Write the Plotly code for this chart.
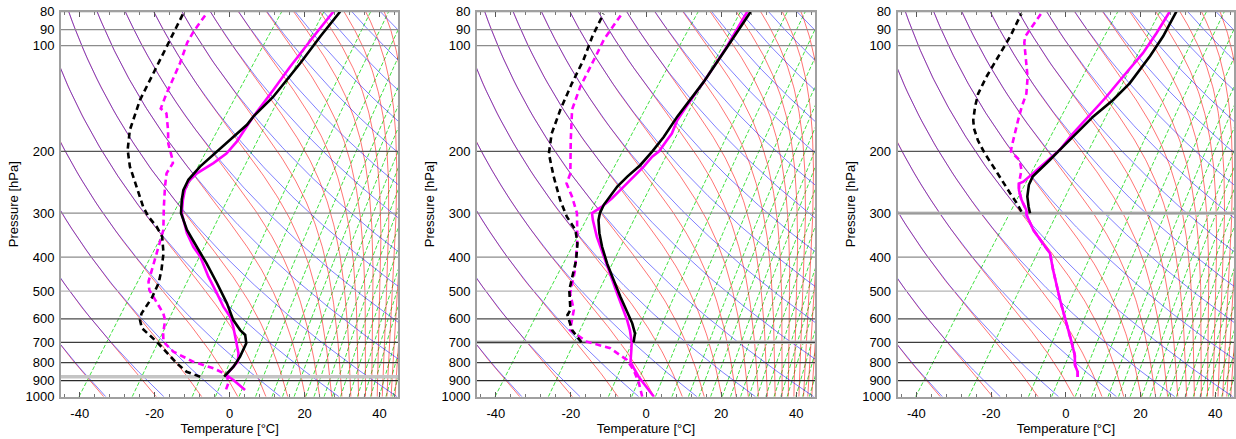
import numpy as np
import plotly.graph_objects as go

# ---------------- data (pressure hPa, temperature degC) ----------------
P1_OBS_P = [877, 821, 769, 704, 667, 646, 605, 542, 475, 417, 374, 335, 300, 275, 258, 241, 221, 200, 182, 168, 159, 140, 125, 112, 94, 80]
P1_OBS_T = [-5.4, -4.9, -5.1, -6.1, -8.0, -10.3, -14.1, -19.1, -25.7, -32.4, -38.3, -44.2, -49.1, -51.5, -53.0, -53.7, -53.2, -51.7, -50.2, -48.9, -48.8, -47.4, -47.1, -46.8, -46.7, -46.3]
P1_OBS_TD_P = [877, 849, 803, 697, 638, 605, 579, 524, 475, 436, 390, 350, 328, 307, 288, 252, 221, 198, 174, 143, 117, 96, 81]
P1_OBS_TD = [-11.8, -16.4, -20.7, -30.3, -36.9, -39.0, -39.9, -40.2, -41.3, -43.1, -45.9, -49.5, -52.9, -57.1, -60.4, -66.1, -71.9, -75.8, -79.1, -82.3, -84.2, -86.1, -87.8]
P1_MOD_P = [957, 896, 867, 839, 795, 752, 720, 675, 632, 592, 554, 507, 455, 399, 374, 342, 300, 275, 258, 244, 231, 216, 203, 188, 166, 159, 134, 115, 94, 80]
P1_MOD_T = [2.8, -2.3, -5.2, -5.1, -4.7, -6.2, -7.9, -10.3, -12.8, -15.6, -19.4, -23.8, -29.3, -35.4, -39.2, -43.6, -48.9, -51.2, -52.6, -53.3, -52.7, -50.3, -48.7, -48.3, -48.8, -48.8, -48.7, -48.8, -48.5, -48.1]
P1_MOD_TD_P = [953, 916, 867, 830, 795, 744, 697, 660, 605, 579, 530, 497, 470, 436, 390, 335, 288, 252, 231, 216, 207, 190, 174, 156, 151, 137, 112, 98, 91, 81]
P1_MOD_TD = [-2.4, -3.0, -5.0, -9.9, -16.6, -23.9, -28.5, -30.2, -32.3, -34.1, -38.9, -42.4, -44.3, -45.7, -47.7, -50.5, -54.9, -58.6, -60.8, -61.1, -62.7, -66.2, -68.9, -72.6, -75.1, -76.5, -78.9, -81.0, -81.5, -81.6]

P2_OBS_P = [700, 660, 618, 573, 519, 465, 417, 374, 342, 314, 300, 284, 269, 252, 236, 219, 200, 182, 159, 127, 101, 80]
P2_OBS_T = [-14.0, -15.4, -18.1, -21.8, -26.5, -31.6, -36.6, -41.2, -44.6, -47.4, -48.4, -49.0, -48.9, -49.0, -48.3, -47.1, -46.6, -46.4, -46.8, -46.6, -47.2, -47.9]
P2_OBS_TD_P = [700, 646, 585, 566, 497, 455, 408, 366, 335, 307, 275, 236, 203, 178, 152, 128, 110, 94, 81]
P2_OBS_TD = [-27.9, -32.8, -37.0, -37.2, -41.4, -43.3, -45.5, -48.4, -51.6, -56.5, -61.6, -67.9, -73.7, -76.9, -79.3, -81.4, -82.9, -85.2, -86.7]
P2_MOD_P = [1000, 947, 877, 830, 795, 736, 700, 646, 605, 508, 408, 350, 314, 300, 287, 272, 255, 236, 221, 207, 200, 186, 178, 163, 148, 127, 102, 80]
P2_MOD_T = [2.1, -1.3, -5.9, -8.8, -11.0, -13.1, -14.5, -17.4, -20.1, -28.0, -37.7, -44.6, -48.9, -50.5, -49.1, -48.1, -47.4, -46.6, -45.9, -45.6, -44.8, -44.9, -44.9, -46.1, -46.4, -46.6, -47.3, -48.8]
P2_MOD_TD_P = [1000, 916, 840, 786, 728, 697, 646, 566, 508, 436, 358, 300, 269, 247, 231, 186, 152, 131, 107, 96, 81]
P2_MOD_TD = [-1.0, -4.5, -8.5, -12.3, -19.0, -26.6, -33.3, -36.3, -40.5, -43.8, -49.1, -54.5, -59.1, -63.1, -64.1, -70.5, -76.2, -78.5, -80.4, -81.5, -81.8]

P3_OBS_P = [300, 288, 269, 249, 236, 226, 212, 198, 178, 159, 143, 128, 107, 94, 80]
P3_OBS_T = [-45.7, -47.3, -49.7, -51.6, -52.2, -51.6, -50.9, -50.2, -49.0, -47.8, -45.8, -44.6, -44.5, -44.9, -46.2]
P3_OBS_TD_P = [297, 281, 263, 241, 221, 203, 186, 172, 163, 149, 137, 123, 110, 94, 81]
P3_OBS_TD = [-48.3, -51.2, -55.0, -59.8, -64.7, -69.5, -74.0, -77.4, -79.2, -81.4, -83.1, -84.2, -84.8, -85.8, -87.3]
P3_MOD_P = [879, 850, 812, 761, 689, 605, 530, 436, 390, 366, 335, 304, 294, 275, 258, 247, 244, 231, 214, 198, 178, 158, 140, 123, 105, 92, 80]
P3_MOD_T = [-0.7, -1.7, -3.8, -5.8, -9.8, -15.1, -20.6, -28.3, -32.5, -36.3, -41.5, -46.2, -47.3, -50.6, -53.2, -54.5, -53.7, -52.7, -51.4, -50.2, -49.9, -49.0, -48.2, -47.7, -47.0, -47.3, -48.0]
P3_MOD_TD_P = [879, 850, 812, 761, 689, 605, 530, 436, 390, 366, 335, 304, 294, 275, 258, 247, 226, 212, 205, 200, 194, 178, 163, 149, 137, 123, 110, 98, 94, 90, 81]
P3_MOD_TD = [-0.7, -1.7, -3.8, -5.8, -9.8, -15.1, -20.6, -28.3, -32.5, -36.3, -41.5, -46.2, -47.3, -50.6, -53.2, -54.5, -56.5, -58.9, -61.2, -63.0, -63.7, -65.5, -67.2, -68.9, -70.2, -73.1, -76.8, -80.8, -81.8, -81.8, -82.0]

OBS_BASE_P = [877, 700, 300]          # thick grey line (lowest observed level) per panel

# ---------------- diagram furniture parameters ----------------
SKEW = 30.0                            # degC of skew per unit ln(p)
KAPPA = 0.2857
THETA_K = [224.5, 240.1, 255.6, 271.2, 286.7, 302.3, 317.8, 333.4, 348.9, 364.5, 380.0,
           395.6, 411.1, 426.7, 442.2, 457.8, 473.3, 488.9, 504.4, 520.0, 535.5]
MIXR_TD1000 = [-40.2, -26.0, -10.0, -3.8, 2.5, 6.9, 11.3, 14.1, 17.2, 20.3, 22.5, 25.2, 27.4,
               29.6, 31.9, 34.1, 35.9, 37.6, 39.9, 41.7, 43.5]
ISOBARS = [80, 90, 100, 200, 300, 400, 500, 600, 700, 800, 900]
ISOBAR_COLORS = ['#8c8c8c', '#8c8c8c', '#8c8c8c', '#555555', '#8c8c8c', '#8c8c8c', '#b4b4b4',
                 '#4a4a4a', '#3c3c3c', '#3c3c3c', '#2a2a2a']
P_TICKS = [80, 90, 100, 200, 300, 400, 500, 600, 700, 800, 900, 1000]
T_TICKS = [-40, -20, 0, 20, 40]
T_RANGE = [-45, 45]
P_GRID = np.geomspace(1000.0, 80.0, 160)

FIG_W, FIG_H = 1236, 439
PANEL_X = [(61, 398.3), (477, 815), (897.7, 1234)]     # pixel extents of the three plot areas
PANEL_Y = (11.7, 396.7)
X_DOMAINS = [(a / FIG_W, b / FIG_W) for a, b in PANEL_X]
Y_DOMAIN = (1 - PANEL_Y[1] / FIG_H, 1 - PANEL_Y[0] / FIG_H)


def skew_x(t, p):
    return np.asarray(t, float) + SKEW * np.log(1000.0 / np.asarray(p, float))


def es(tc):
    return 6.112 * np.exp(17.67 * tc / (tc + 243.5))


def theta_e(tk, p):
    e = np.minimum(es(tk - 273.15), 0.6 * p)
    w = 0.622 * e / (p - e)
    return tk * (1000.0 / p) ** KAPPA * np.exp(2.5e6 * w / (1004.0 * tk))


def moist_adiabat(the, p):
    lo = np.full_like(p, 80.0)
    hi = np.full_like(p, 360.0)
    for _ in range(60):
        mid = 0.5 * (lo + hi)
        f = theta_e(mid, p) > the
        hi = np.where(f, mid, hi)
        lo = np.where(f, lo, mid)
    return 0.5 * (lo + hi) - 273.15


def joined(curves):
    xs, ys = [], []
    for x, y in curves:
        xs.extend(list(x)); xs.append(None)
        ys.extend(list(y)); ys.append(None)
    return xs, ys


dry = [(skew_x(th * (P_GRID / 1000.0) ** KAPPA - 273.15, P_GRID), P_GRID) for th in THETA_K]
moist = [(skew_x(moist_adiabat(th, P_GRID), P_GRID), P_GRID) for th in THETA_K]
mixr = []
for td0 in MIXR_TD1000:
    e0 = es(td0)
    w = 0.622 * e0 / (1000.0 - e0)
    e = w * P_GRID / (0.622 + w)
    lnr = np.log(e / 6.112)
    td = 243.5 * lnr / (17.67 - lnr)
    mixr.append((skew_x(td, P_GRID), P_GRID))

panels = [
    dict(obs=(P1_OBS_P, P1_OBS_T), obs_td=(P1_OBS_TD_P, P1_OBS_TD), mod=(P1_MOD_P, P1_MOD_T), mod_td=(P1_MOD_TD_P, P1_MOD_TD)),
    dict(obs=(P2_OBS_P, P2_OBS_T), obs_td=(P2_OBS_TD_P, P2_OBS_TD), mod=(P2_MOD_P, P2_MOD_T), mod_td=(P2_MOD_TD_P, P2_MOD_TD)),
    dict(obs=(P3_OBS_P, P3_OBS_T), obs_td=(P3_OBS_TD_P, P3_OBS_TD), mod=(P3_MOD_P, P3_MOD_T), mod_td=(P3_MOD_TD_P, P3_MOD_TD)),
]

fig = go.Figure()
MAGENTA = 'rgb(255,0,255)'

for i, pan in enumerate(panels):
    xa = 'x' if i == 0 else f'x{i+1}'
    ya = 'y' if i == 0 else f'y{i+1}'
    common = dict(xaxis=xa, yaxis=ya, mode='lines', hoverinfo='skip', showlegend=False)

    gx, gy = joined(mixr)
    fig.add_trace(go.Scatter(x=gx, y=gy, line=dict(color='rgba(0,215,0,0.75)', width=1, dash='4px,2px'), **common))
    rx, ry = joined(moist)
    fig.add_trace(go.Scatter(x=rx, y=ry, line=dict(color='rgba(255,0,0,0.55)', width=1), **common))
    bx, by = joined(dry)
    fig.add_trace(go.Scatter(x=bx, y=by, line=dict(color='rgba(0,0,255,0.5)', width=1), **common))

    # thick grey marker of the lowest observed level
    fig.add_trace(go.Scatter(x=T_RANGE, y=[OBS_BASE_P[i]] * 2, line=dict(color='#c4c4c4', width=3.5), **common))
    for pb, col in zip(ISOBARS, ISOBAR_COLORS):
        fig.add_trace(go.Scatter(x=T_RANGE, y=[pb, pb], line=dict(color=col, width=1.2), **common))

    p, t = pan['mod_td']
    fig.add_trace(go.Scatter(x=skew_x(t, p), y=p, line=dict(color=MAGENTA, width=2.6, dash='6px,4px'), **common))
    p, t = pan['mod']
    fig.add_trace(go.Scatter(x=skew_x(t, p), y=p, line=dict(color=MAGENTA, width=2.6), **common))
    p, t = pan['obs_td']
    fig.add_trace(go.Scatter(x=skew_x(t, p), y=p, line=dict(color='black', width=2.6, dash='6px,4px'), **common))
    p, t = pan['obs']
    fig.add_trace(go.Scatter(x=skew_x(t, p), y=p, line=dict(color='black', width=2.6), **common))

layout = dict(
    width=FIG_W, height=FIG_H, margin=dict(l=0, r=0, t=0, b=0, autoexpand=False),
    paper_bgcolor='white', plot_bgcolor='white', showlegend=False,
    font=dict(family='Liberation Sans, Arial, sans-serif', size=13, color='black'),
)
for i in range(3):
    sx = '' if i == 0 else str(i + 1)
    layout['xaxis' + sx] = dict(
        domain=list(X_DOMAINS[i]), anchor='y' + sx, range=T_RANGE, showgrid=False, zeroline=False,
        automargin=False, ticklabeloverflow='allow',
        tickvals=T_TICKS, ticktext=[str(v) for v in T_TICKS],
        ticks='inside', ticklen=5, tickcolor='#555', tickwidth=1,
        minor=dict(dtick=4, tick0=0, ticks='inside', ticklen=3, tickcolor='#777', showgrid=False),
        showline=True, linecolor='#a0a0a0', linewidth=2, mirror='allticks',
        ticklabelstandoff=4,
        title=dict(text='Temperature [°C]', standoff=3, font=dict(size=13)),
    )
    layout['yaxis' + sx] = dict(
        domain=list(Y_DOMAIN), anchor='x' + sx, type='log',
        automargin=False, ticklabeloverflow='allow',
        range=[np.log10(1000), np.log10(80)], showgrid=False, zeroline=False,
        tickvals=P_TICKS, ticktext=[str(v) for v in P_TICKS], ticks='',
        showline=True, linecolor='#a0a0a0', linewidth=2, mirror=True,
        ticklabelstandoff=2,
        title=dict(text='Pressure [hPa]', standoff=4, font=dict(size=13)),
    )
fig.update_layout(**layout)
# remove the default 8 px page margin so the 1236x439 figure fills the window exactly
fig.write_html('out.html', config={'displayModeBar': False},
               post_script="document.body.style.margin='0px';")
